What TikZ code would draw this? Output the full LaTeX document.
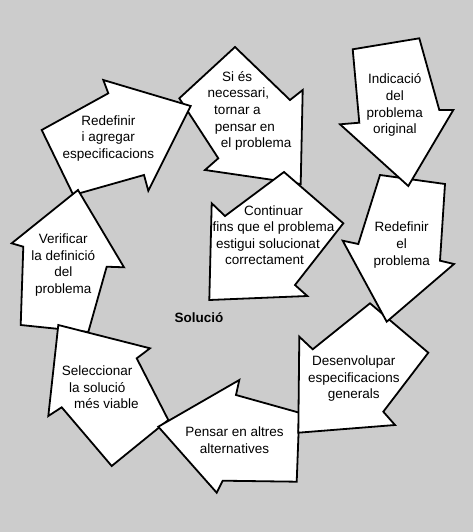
\documentclass[tikz,border=0pt]{standalone}
\usepackage{fontspec}
\setmainfont{Liberation Sans}
\definecolor{bg}{RGB}{204,204,204}
\begin{document}
\begin{tikzpicture}[x=1pt,y=-1pt,
  blockarrow/.style={draw=black,fill=white,line width=1.8pt,line join=miter},
  lbl/.style={inner sep=0pt,anchor=base,font=\fontsize{13.5pt}{16.7pt}\selectfont},
  boldlbl/.style={lbl,font=\fontsize{13.5pt}{16.7pt}\selectfont\bfseries}]
\fill[bg] (0,0) rectangle (473,532);
\useasboundingbox (0,0) rectangle (473,532);
% Si es necessari
\draw[blockarrow] (300.7,184) -- (302.7,90) -- (290,100) -- (235,47) -- (179.3,98.3) -- (218.3,158.3) -- (205,170) -- cycle;
% Continuar
\draw[blockarrow] (209.3,300) -- (211.7,203.3) -- (225,216) -- (284,172) -- (343.3,223.3) -- (295,285) -- (307.3,296) -- cycle;
% Redefinir i agregar
\draw[blockarrow] (190.7,106) -- (148.3,190.7) -- (144,175) -- (73.3,195) -- (41.7,130) -- (108.3,93.3) -- (103.3,80) -- cycle;
% Verificar
\draw[blockarrow] (78,190) -- (124,267.3) -- (106.7,266.7) -- (88.3,332) -- (20.7,325) -- (23.3,246.7) -- (11.7,243.3) -- cycle;
% Seleccionar
\draw[blockarrow] (58.3,325) -- (150,348.3) -- (136.7,358.3) -- (168.3,420) -- (111.7,466) -- (61.7,407.3) -- (48.3,416) -- cycle;
% Pensar
\draw[blockarrow] (158.3,426.7) -- (239.3,380) -- (236,395) -- (299.3,412.7) -- (296.7,481.7) -- (222.7,480.7) -- (216.7,492.7) -- cycle;
% Desenvolupar
\draw[blockarrow] (298.3,432.7) -- (299.3,336.7) -- (312.7,349.3) -- (370,303.3) -- (428.3,352.7) -- (383.3,411.7) -- (395,425) -- cycle;
% Redefinir el problema
\draw[blockarrow] (386.7,321.7) -- (454,264) -- (440,260.7) -- (445,184) -- (380,175) -- (358.3,244) -- (342.7,240.7) -- cycle;
% Indicacio
\draw[blockarrow] (408.3,186) -- (453.3,110) -- (439.3,110) -- (419.3,38.3) -- (352.7,49.3) -- (359.3,122.7) -- (340,124.3) -- cycle;

% texts
\node[lbl] (i1) at (394.8,83.8) {Indicació};
\node[lbl] (i2) at (394.8,100.4) {del};
\node[lbl] (i3) at (394.8,117.1) {problema};
\node[lbl] (i4) at (394.8,133.7) {original};

\node[lbl] (r1) at (401.7,231.8) {Redefinir};
\node[lbl] (r2) at (401.7,248.5) {el};
\node[lbl] (r3) at (401.7,265.2) {problema};

\node[lbl] (d1) at (353.8,365.5) {Desenvolupar};
\node[lbl] (d2) at (353.8,382.2) {especificacions};
\node[lbl] (d3) at (353.8,398.8) {generals};

\node[lbl] (p1) at (234.5,436.8) {Pensar en altres};
\node[lbl] (p2) at (234.5,453.5) {alternatives};

\node[lbl] (s1) at (97.2,375.5) {Seleccionar};
\node[lbl] (s2) at (97.2,392.2) {la solució};
\node[lbl] (s3) at (106.3,408.8) {més viable};

\node[lbl] (v1) at (63.3,243.5) {Verificar};
\node[lbl] (v2) at (63.3,260.2) {la definició};
\node[lbl] (v3) at (63.3,276.8) {del};
\node[lbl] (v4) at (63.3,293.5) {problema};

\node[lbl] (a1) at (108.3,125.2) {Redefinir};
\node[lbl] (a2) at (108.3,141.8) {i agregar};
\node[lbl] (a3) at (108.3,158.5) {especificacions};

\node[lbl] (b1) at (237.2,81.2) {Si és};
\node[lbl] (b2) at (238.3,97.8) {necessari,};
\node[lbl] (b3) at (237.5,114.5) {tornar a};
\node[lbl] (b4) at (245,131.2) {pensar en};
\node[lbl] (b5) at (256.2,147.8) {el problema};

\node[lbl] (c1) at (273.5,215.2) {Continuar};
\node[lbl] (c2) at (273.5,231.8) {fins que el problema};
\node[lbl] (c3) at (268,248.5) {estigui solucionat};
\node[lbl] (c4) at (264.5,264.5) {correctament};

\node[boldlbl] (sol) at (199,322) {Solució};
\end{tikzpicture}
\end{document}
